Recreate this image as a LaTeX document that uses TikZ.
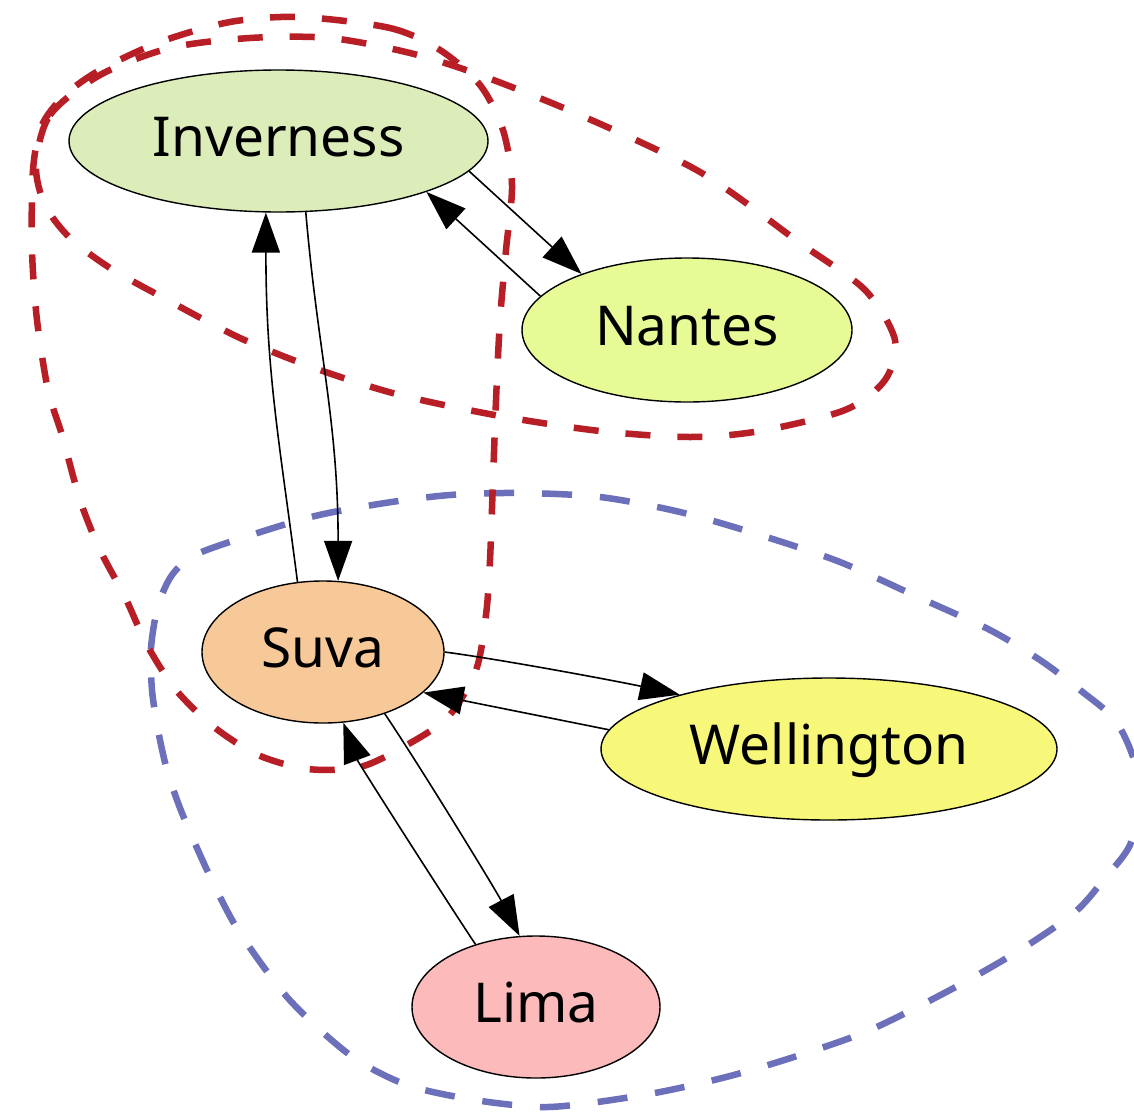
\documentclass[tikz,border=0pt]{standalone}
\usepackage{fontspec}
\setmainfont{Noto Sans}
\usetikzlibrary{shapes.geometric,arrows.meta}

\definecolor{invfill}{RGB}{220,237,186}
\definecolor{nanfill}{RGB}{230,251,150}
\definecolor{suvfill}{RGB}{247,201,153}
\definecolor{welfill}{RGB}{247,248,122}
\definecolor{limfill}{RGB}{253,186,187}
\definecolor{clred}{RGB}{184,30,38}
\definecolor{clblue}{RGB}{108,112,186}

\tikzset{
  city/.style={ellipse, draw=black, line width=1.4pt, inner sep=0pt,
    text height=45pt, text depth=15pt, font=\fontsize{55}{60}\selectfont},
  link/.style={line width=1.6pt, -{Triangle[length=40pt,width=28pt]}},
  redzone/.style={draw=clred, line width=6.5pt, dash pattern=on 25pt off 27pt},
  bluezone/.style={draw=clblue, line width=6.5pt, dash pattern=on 30pt off 28pt},
}

\begin{document}
\begin{tikzpicture}[x=1pt,y=-1pt]
\useasboundingbox (0,0) rectangle (1134,1111);
\fill[white] (0,0) rectangle (1134,1111);

% cluster: Suva, Wellington, Lima
\draw[bluezone] plot[smooth cycle] coordinates {
  (520,493) (600,497) (680,512) (760,535) (840,562) (920,598) (990,630)
  (1040,660) (1080,690) (1115,720) (1134,760) (1140,800) (1130,845)
  (1105,878) (1075,912) (1020,950) (950,990) (870,1030) (800,1055)
  (730,1076) (660,1092) (590,1103) (540,1107) (475,1100) (410,1086)
  (360,1062) (320,1030) (287,997) (260,962) (235,925) (215,887) (197,848)
  (180,808) (167,770) (158,730) (152,690) (151,648) (158,606) (172,575)
  (195,555) (245,537) (315,516) (385,503) (450,495)};

% cluster: Inverness, Nantes
\draw[redzone] plot[smooth cycle] coordinates {
  (36,165) (50,115) (100,75) (170,48) (250,38) (330,38) (410,53) (480,75)
  (580,115) (700,172) (800,243) (865,290) (895,340) (885,380) (845,410)
  (760,431) (690,437) (600,431) (500,416) (400,395) (320,370) (240,338)
  (160,296) (110,268) (70,238) (45,205)};

% cluster: Inverness, Suva
\draw[redzone] plot[smooth cycle] coordinates {
  (300,17) (390,28) (440,50) (480,85) (503,130) (512,185) (506,250)
  (500,320) (496,400) (493,480) (490,560) (486,615) (476,670) (448,717)
  (405,746) (360,767) (308,769) (258,755) (214,727) (176,690) (147,645)
  (125,597) (100,550) (80,500) (62,435) (48,390) (37,320) (32,250)
  (33,170) (42,125) (65,95) (100,70) (160,42) (230,22)};

% cities
\node[city, fill=invfill, minimum width=419pt, minimum height=142pt] (inv) at (278.5,141) {Inverness};
\node[city, fill=nanfill, minimum width=330pt, minimum height=144pt] (nan) at (687,330) {Nantes};
\node[city, fill=suvfill, minimum width=242pt, minimum height=142pt] (suv) at (323,652) {Suva};
\node[city, fill=welfill, minimum width=456pt, minimum height=142pt] (wel) at (829,749) {Wellington};
\node[city, fill=limfill, minimum width=248pt, minimum height=142pt] (lim) at (536,1007) {Lima};

% links
\draw[link] (inv.-9.6) -- (nan.152.2);
\draw[link] (nan.167.9) -- (inv.-19.6);
\draw[link] (inv.-69.5) .. controls +(12,140) and +(0,-160) .. (suv.78.7);
\draw[link] (suv.110.1) .. controls +(-18,-140) and +(0,160) .. (inv.-100);
\draw[link] (suv.-0.5) .. controls +(60,8) and +(-60,-13) .. (wel.160.4);
\draw[link] (wel.175.7) -- (suv.-22.9);
\draw[link] (suv.-45) .. controls +(35,52) and +(-25,-48) .. (lim.103.7);
\draw[link] (lim.134.6) .. controls +(-30,-45) and +(15,40) .. (suv.-74.3);
\end{tikzpicture}
\end{document}
